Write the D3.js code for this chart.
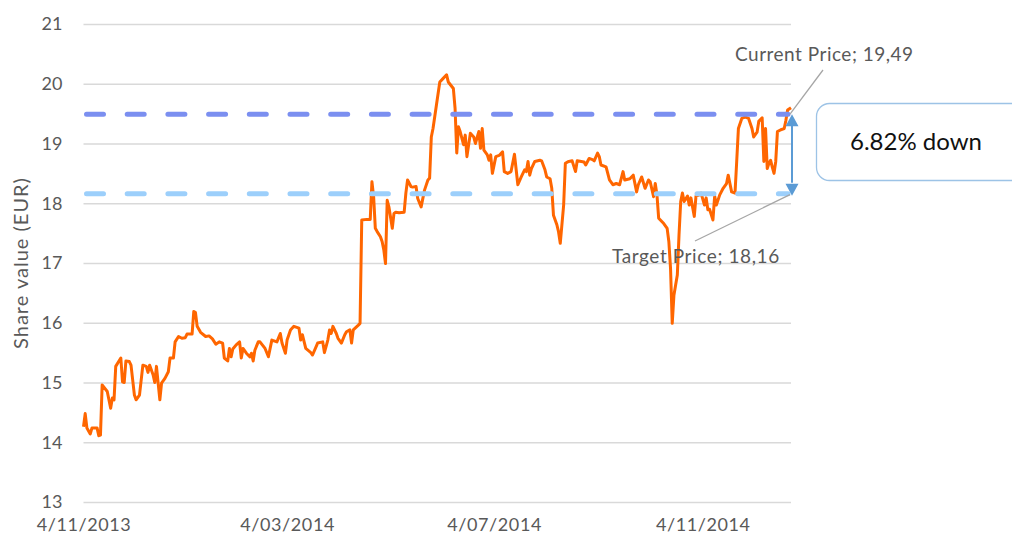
<!DOCTYPE html>
<html>
<head>
<meta charset="utf-8">
<script src="https://cdn.jsdelivr.net/npm/d3@7"></script>
<style>
  body { margin: 0; background: #fff; }
  svg { display: block; font-family: "Lato", "Open Sans", sans-serif; }
</style>
</head>
<body>
<div id="chart"></div>
<script>
// share price
var dates = [
  "2013-11-04","2013-11-05","2013-11-06","2013-11-08","2013-11-09","2013-11-12","2013-11-13","2013-11-14","2013-11-15","2013-11-18",
  "2013-11-20","2013-11-21","2013-11-22","2013-11-23","2013-11-26","2013-11-27","2013-11-28","2013-11-29","2013-12-01","2013-12-02",
  "2013-12-04","2013-12-05","2013-12-07","2013-12-09","2013-12-11","2013-12-12","2013-12-13","2013-12-15","2013-12-16","2013-12-17",
  "2013-12-19","2013-12-20","2013-12-22","2013-12-24","2013-12-25","2013-12-27","2013-12-28","2013-12-30","2014-01-01","2014-01-03",
  "2014-01-04","2014-01-07","2014-01-08","2014-01-09","2014-01-10","2014-01-12","2014-01-15","2014-01-17","2014-01-19","2014-01-21",
  "2014-01-23","2014-01-25","2014-01-26","2014-01-28","2014-01-29","2014-01-30","2014-01-31","2014-02-02","2014-02-04","2014-02-05",
  "2014-02-06","2014-02-08","2014-02-10","2014-02-11","2014-02-12","2014-02-13","2014-02-15","2014-02-16","2014-02-19","2014-02-21",
  "2014-02-23","2014-02-26","2014-02-28","2014-03-01","2014-03-03","2014-03-04","2014-03-06","2014-03-08","2014-03-11","2014-03-12",
  "2014-03-13","2014-03-15","2014-03-18","2014-03-19","2014-03-22","2014-03-25","2014-03-26","2014-03-28","2014-03-29","2014-03-30",
  "2014-03-31","2014-04-02","2014-04-03","2014-04-05","2014-04-07","2014-04-08","2014-04-10","2014-04-11","2014-04-12","2014-04-15",
  "2014-04-16","2014-04-17","2014-04-20","2014-04-22","2014-04-23","2014-04-24","2014-04-25","2014-04-26","2014-04-28","2014-04-29",
  "2014-04-30","2014-05-01","2014-05-02","2014-05-03","2014-05-05","2014-05-06","2014-05-07","2014-05-09","2014-05-12","2014-05-13",
  "2014-05-14","2014-05-16","2014-05-17","2014-05-19","2014-05-20","2014-05-22","2014-05-24","2014-05-26","2014-05-27","2014-05-28",
  "2014-05-29","2014-05-31","2014-06-02","2014-06-04","2014-06-06","2014-06-07","2014-06-10","2014-06-11","2014-06-12","2014-06-13",
  "2014-06-14","2014-06-16","2014-06-17","2014-06-18","2014-06-20","2014-06-22","2014-06-23","2014-06-25","2014-06-26","2014-06-27",
  "2014-06-28","2014-06-30","2014-07-01","2014-07-02","2014-07-03","2014-07-05","2014-07-07","2014-07-09","2014-07-10","2014-07-12",
  "2014-07-14","2014-07-16","2014-07-18","2014-07-20","2014-07-22","2014-07-23","2014-07-24","2014-07-25","2014-07-26","2014-07-28",
  "2014-07-31","2014-08-01","2014-08-03","2014-08-04","2014-08-06","2014-08-07","2014-08-08","2014-08-10","2014-08-11","2014-08-12",
  "2014-08-14","2014-08-15","2014-08-17","2014-08-19","2014-08-21","2014-08-22","2014-08-26","2014-08-27","2014-08-29","2014-08-31",
  "2014-09-01","2014-09-03","2014-09-04","2014-09-05","2014-09-08","2014-09-10","2014-09-12","2014-09-14","2014-09-16","2014-09-18",
  "2014-09-19","2014-09-22","2014-09-24","2014-09-26","2014-09-27","2014-09-29","2014-10-01","2014-10-03","2014-10-04","2014-10-06",
  "2014-10-07","2014-10-08","2014-10-09","2014-10-12","2014-10-14","2014-10-15","2014-10-16","2014-10-17","2014-10-18","2014-10-19",
  "2014-10-20","2014-10-21","2014-10-22","2014-10-23","2014-10-24","2014-10-26","2014-10-27","2014-10-28","2014-10-30","2014-10-31",
  "2014-11-02","2014-11-03","2014-11-05","2014-11-06","2014-11-07","2014-11-08","2014-11-10","2014-11-11","2014-11-12","2014-11-14",
  "2014-11-16","2014-11-18","2014-11-19","2014-11-20","2014-11-21","2014-11-23","2014-11-24","2014-11-25","2014-11-27","2014-11-29",
  "2014-12-01","2014-12-03","2014-12-04","2014-12-06","2014-12-07","2014-12-09","2014-12-10","2014-12-11","2014-12-12","2014-12-13",
  "2014-12-14","2014-12-15","2014-12-16","2014-12-17","2014-12-18","2014-12-20","2014-12-22","2014-12-23","2014-12-24","2014-12-26"
];

var prices = [
  14.26,14.48,14.24,14.14,14.24,14.24,14.11,14.12,14.96,14.85,
  14.57,14.74,14.71,15.27,15.41,15.01,15.00,15.36,15.35,15.29,
  14.79,14.71,14.79,15.29,15.27,15.17,15.29,15.13,15.00,15.27,
  14.71,14.99,15.07,15.18,15.41,15.41,15.68,15.77,15.74,15.75,
  15.81,15.81,16.19,16.17,15.94,15.84,15.77,15.78,15.73,15.64,
  15.68,15.66,15.41,15.36,15.57,15.43,15.56,15.63,15.68,15.41,
  15.57,15.49,15.43,15.49,15.36,15.54,15.68,15.68,15.57,15.43,
  15.71,15.68,15.82,15.66,15.49,15.71,15.88,15.94,15.91,15.71,
  15.80,15.57,15.50,15.46,15.66,15.68,15.50,15.71,15.88,15.82,
  15.94,15.82,15.74,15.66,15.80,15.85,15.88,15.66,15.88,15.96,
  15.99,17.72,17.73,17.73,18.36,18.11,17.58,17.53,17.44,17.36,
  17.22,16.99,18.05,17.94,17.58,17.83,17.85,17.84,17.85,18.17,
  18.39,18.28,18.27,18.28,18.08,17.94,18.22,18.39,18.42,19.11,
  19.25,19.64,20.03,20.09,20.15,20.03,19.92,19.59,18.84,19.28,
  19.20,18.98,19.14,18.78,19.17,19.11,19.00,19.20,18.92,19.25,
  18.89,18.81,18.72,18.81,18.50,18.78,18.80,18.86,18.53,18.50,
  18.53,18.82,18.31,18.44,18.56,18.53,18.70,18.47,18.58,18.70,
  18.72,18.71,18.56,18.44,18.41,18.25,17.80,17.64,17.52,17.33,
  17.97,18.67,18.70,18.71,18.53,18.71,18.69,18.64,18.75,18.73,
  18.71,18.84,18.78,18.64,18.61,18.39,18.31,18.33,18.31,18.53,
  18.39,18.41,18.47,18.19,18.31,18.44,18.25,18.39,18.36,18.11,
  18.33,18.14,17.75,17.66,17.58,17.36,16.91,15.99,16.46,16.63,
  16.80,17.47,18.03,18.17,18.03,18.12,17.97,18.09,17.78,18.12,
  18.14,18.17,17.97,18.09,17.89,17.90,17.72,18.12,17.97,18.14,
  18.25,18.33,18.47,18.33,18.19,18.17,18.70,19.25,19.42,19.44,
  19.42,19.25,19.11,19.19,19.37,19.43,18.70,19.25,18.58,18.67,
  18.72,18.60,18.50,18.70,19.20,19.23,19.25,19.39,19.56,19.60
];

var currentPrice = 19.49;
var targetPrice = 18.16;
var yTicks = [13, 14, 15, 16, 17, 18, 19, 20, 21];
var xTickDates = ["2013-11-04", "2014-03-04", "2014-07-04", "2014-11-04"];

(function () {
  var W = 1012, H = 536;
  var m = {left: 83.5, right: 791, top: 24, bottom: 502};
  var grey = "#595959";

  var parseTime = d3.timeParse("%Y-%m-%d");
  var data = dates.map(function(d, i) { return {date: parseTime(d), value: prices[i]}; });

  var svg = d3.select("#chart").append("svg")
      .attr("width", W)
      .attr("height", H);

  var x = d3.scaleTime()
      .domain([data[0].date, data[data.length - 1].date])
      .range([m.left, m.right]);

  var y = d3.scaleLinear()
      .domain([13, 21])
      .range([m.bottom, m.top]);

  // gridlines + y labels
  var yAxis = svg.append("g")
      .attr("transform", "translate(" + m.left + ",0)")
      .call(d3.axisLeft(y).tickValues(yTicks).tickSize(-(m.right - m.left)).tickPadding(21).tickFormat(d3.format("d")));
  yAxis.select(".domain").remove();
  yAxis.selectAll("line").attr("stroke", "#d9d9d9").attr("stroke-width", 1.5);
  yAxis.selectAll("text").attr("fill", grey).style("font-size", "18px").style("font-family", "Lato");

  // x labels
  var xAxis = svg.append("g")
      .attr("transform", "translate(0," + m.bottom + ")")
      .call(d3.axisBottom(x).tickValues(xTickDates.map(parseTime)).tickSize(0).tickPadding(16).tickFormat(d3.timeFormat("%-d/%m/%Y")));
  xAxis.select(".domain").remove();
  xAxis.selectAll("text").attr("fill", grey).style("font-size", "18px").style("font-family", "Lato")
      .style("letter-spacing", "0.6px");

  svg.append("text")
      .attr("transform", "translate(28," + ((m.top + m.bottom) / 2) + ") rotate(-90)")
      .attr("text-anchor", "middle")
      .attr("fill", grey)
      .style("font-size", "20px")
      .style("letter-spacing", "1px")
      .text("Share value (EUR)");

  // price line
  svg.append("path")
      .datum(data)
      .attr("fill", "none")
      .attr("stroke", "#ff6600")
      .attr("stroke-width", 3)
      .attr("stroke-linejoin", "round")
      .attr("d", d3.line()
          .x(function(d) { return x(d.date); })
          .y(function(d) { return y(d.value); }));

  // current / target dashed lines
  var levels = [
    {value: currentPrice, color: "#7b8ff0"},
    {value: targetPrice, color: "#9ccffb"}
  ];
  svg.selectAll(".level")
      .data(levels)
    .enter().append("line")
      .attr("class", "level")
      .attr("x1", m.left + 3)
      .attr("x2", m.right - 3)
      .attr("y1", function(d) { return y(d.value); })
      .attr("y2", function(d) { return y(d.value); })
      .attr("stroke", function(d) { return d.color; })
      .attr("stroke-width", 5)
      .attr("stroke-linecap", "round")
      .attr("stroke-dasharray", "17,23.7");

  // leader lines + labels
  var xEnd = x(data[data.length - 1].date);
  var fmt = function(v) { return d3.format(".2f")(v).replace(".", ","); };

  svg.append("line")
      .attr("x1", xEnd - 1).attr("y1", y(currentPrice))
      .attr("x2", 823).attr("y2", 70)
      .attr("stroke", "#a6a6a6").attr("stroke-width", 1.3);
  svg.append("line")
      .attr("x1", xEnd - 1).attr("y1", y(targetPrice) + 1)
      .attr("x2", 695).attr("y2", 241)
      .attr("stroke", "#a6a6a6").attr("stroke-width", 1.3);

  svg.append("text")
      .attr("x", 735).attr("y", 61)
      .attr("fill", grey)
      .style("font-size", "19px")
      .style("letter-spacing", "0.5px")
      .text("Current Price; " + fmt(currentPrice));
  svg.append("text")
      .attr("x", 612).attr("y", 263)
      .attr("fill", grey)
      .style("font-size", "19px")
      .style("letter-spacing", "0.6px")
      .text("Target Price; " + fmt(targetPrice));

  // double arrow between the two levels
  var ax = 792, y1 = y(currentPrice), y2 = y(targetPrice), hw = 6.5, hh = 12;
  var arrowColor = "#5b9bd5";
  svg.append("line")
      .attr("x1", ax).attr("x2", ax)
      .attr("y1", y1 + hh - 1).attr("y2", y2 - hh + 1)
      .attr("stroke", arrowColor).attr("stroke-width", 2);
  svg.append("path")
      .attr("d", "M" + ax + "," + y1 + "L" + (ax - hw) + "," + (y1 + hh) + "L" + (ax + hw) + "," + (y1 + hh) + "Z" +
                 "M" + ax + "," + (y2 + 2) + "L" + (ax - hw) + "," + (y2 + 2 - hh) + "L" + (ax + hw) + "," + (y2 + 2 - hh) + "Z")
      .attr("fill", arrowColor);

  // callout box
  svg.append("rect")
      .attr("x", 816.5).attr("y", 103.5)
      .attr("width", 210).attr("height", 77)
      .attr("rx", 13)
      .attr("fill", "#fff")
      .attr("stroke", "#9dc3e6")
      .attr("stroke-width", 1.3);
  svg.append("text")
      .attr("x", 916).attr("y", 150)
      .attr("text-anchor", "middle")
      .attr("fill", "#111")
      .style("font-size", "24px")
      .text(d3.format(".2f")((currentPrice - targetPrice) / currentPrice * 100) + "% down");
})();
</script>
</body>
</html>
